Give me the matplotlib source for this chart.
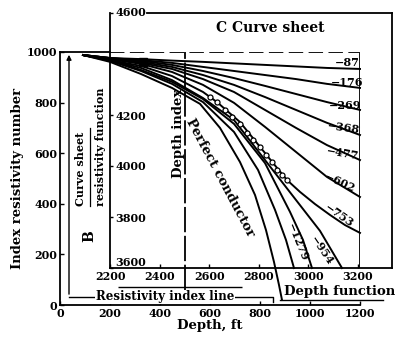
import numpy as np
import matplotlib.pyplot as plt

plt.rcParams['font.family'] = ['DejaVu Serif']
plt.rcParams['font.weight'] = 'bold'
plt.rcParams['axes.labelweight'] = 'bold'

# index resistivity curves (depth ft, index number)
curve_names = ['-87', '-176', '-269', '-368', '-477', '-602', '-753',
               '-954', '-1279', '', 'Perfect conductor']
x9 = [92, 200, 324, 448, 572, 696, 820, 944, 1068, 1200]
curve_depth = [
    x9, x9, x9, x9, x9, x9,
    [92, 200, 324, 448, 572, 628, 720, 800, 868, 908, 960, 1020, 1080,
     1140, 1200],
    [92, 200, 324, 448, 572, 696, 820, 944, 1040, 1128],
    [92, 200, 324, 448, 572, 696, 820, 920, 972, 1008],
    [92, 200, 324, 448, 572, 696, 792, 860, 904, 936],
    [92, 200, 324, 448, 560, 640, 720, 780, 824, 856, 876, 888],
]
curve_index = [
    [988, 976, 972, 966, 961, 955, 949, 943, 937, 933],
    [988, 976, 968, 957, 941, 925, 909, 893, 874, 858],
    [988, 976, 965, 949, 925, 897, 866, 834, 802, 771],
    [988, 976, 961, 941, 909, 870, 822, 771, 720, 672],
    [988, 972, 957, 933, 893, 842, 771, 700, 632, 573],
    [988, 972, 953, 921, 870, 799, 704, 605, 506, 427],
    [988, 968, 945, 905, 842, 802, 723, 625, 542, 494, 447, 399, 356,
     316, 285],
    [988, 968, 937, 889, 818, 731, 573, 415, 293, 146],
    [988, 968, 929, 882, 814, 716, 561, 368, 257, 146],
    [988, 965, 925, 874, 802, 684, 534, 376, 257, 146],
    [988, 961, 913, 858, 795, 700, 565, 435, 296, 170, 79, 20],
]

# field points (circles)
pts_depth = [600, 628, 660, 688, 720, 748, 772, 800, 824, 848, 868, 888, 908]
pts_index = [822, 802, 771, 743, 715, 680, 652, 625, 593, 565, 534, 514, 494]

blob_depth = [332]
blob_index = [960]

a_xticks = [0, 200, 400, 600, 800, 1000, 1200]
a_yticks = [0, 200, 400, 600, 800, 1000]
c_xticks = [2200, 2400, 2600, 2800, 3000, 3200]
c_yticks = [3600, 3800, 4000, 4200, 4600]

# label placement (depth, index, rotation)
lab_pos = [(1150, 958, 0), (1150, 880, 0), (1142, 790, 0), (1132, 700, -8),
           (1132, 601, -10), (1118, 484, -25), (1118, 352, -35),
           (1048, 217, -56), (950, 248, -68), None, (640, 502, -62)]

W, H = 405, 340


def box(l, t, r, b):
    return [l / W, 1 - b / H, (r - l) / W, (b - t) / H]


fig = plt.figure(figsize=(W / 100, H / 100), dpi=100)
ax = fig.add_axes(box(60, 52, 360, 305))
axc = fig.add_axes(box(110, 13, 392, 268))
axc.set_facecolor('none')

# ---- outer chart
ax.set_xlim(0, 1200)
ax.set_ylim(0, 1000)
ax.spines['right'].set_visible(False)
ax.spines['top'].set_bounds(0, 200)
for s in ax.spines.values():
    s.set_linewidth(1.3)
ax.set_xticks(a_xticks)
ax.set_yticks(a_yticks)
ax.tick_params(direction='in', length=3, width=1, labelsize=8, pad=2)
ax.set_xlabel('Depth, ft', fontsize=9.5, labelpad=0)
ax.set_ylabel('Index resistivity number', fontsize=9.5, labelpad=2)

ax.hlines(1000, 200, 1195, colors='k', lw=1.3, linestyles=(0, (8, 3)))
ax.vlines(1200, 146, 1000, colors='k', lw=1.3)
ax.vlines(500, 59, 1000, colors='k', lw=1.3, linestyles=(0, (14, 2)))
ax.hlines(71, 232, 728, colors='k', lw=1)

for xs, ys in zip(curve_depth, curve_index):
    ax.plot(xs, ys, color='k', lw=1.4, clip_on=False)
ax.plot(pts_depth, pts_index, 'o', ms=3.6, mfc='white', mec='k', mew=0.9)
ax.plot(blob_depth, blob_index, 's', ms=6, color='k')

for name, pos in zip(curve_names, lab_pos):
    if pos is None:
        continue
    fs = 9.5 if len(name) > 6 else 8
    ax.text(pos[0], pos[1], name.replace('-', '\u2212'), fontsize=fs,
            rotation=pos[2], ha='center', va='center',
            rotation_mode='anchor')

ax.text(475, 680, 'Depth index', rotation=90, fontsize=9.5,
        ha='center', va='center')

# resistivity index line arrow
ax.annotate('', xy=(36, 1000), xytext=(36, 32),
            arrowprops=dict(arrowstyle='-|>', color='k', lw=1,
                            mutation_scale=7))
ax.plot([36, 852, 852], [32, 32, 10], color='k', lw=1, clip_on=False)
ax.text(420, 32, 'Resistivity index line', fontsize=8.5, ha='center',
        va='center', bbox=dict(fc='white', ec='none', pad=0.5))

ax.text(1120, 55, 'Depth function', fontsize=9.5, ha='center',
        va='center', clip_on=False)
ax.plot([880, 1292], [20, 20], color='k', lw=1, clip_on=False)

# sheet B
ax.text(84, 540, 'Curve sheet', rotation=90, fontsize=8, ha='center',
        va='center')
ax.plot([120, 120], [390, 700], color='k', lw=0.9)
ax.text(164, 625, 'resistivity function', rotation=90, fontsize=8,
        ha='center', va='center')
ax.text(116, 272, 'B', rotation=90, fontsize=10, ha='center', va='center')

# ---- curve sheet C
axc.set_xlim(2200, 3337)
axc.set_ylim(3600, 4600)
axc.spines['top'].set_bounds(2350, 3337)
for s in axc.spines.values():
    s.set_linewidth(1.3)
axc.set_xticks(c_xticks)
axc.set_yticks(c_yticks)
axc.tick_params(axis='x', direction='in', length=3, width=1, labelsize=8,
                pad=2)
axc.tick_params(axis='y', direction='in', length=2, width=1, labelsize=8,
                pad=-4)
for lbl in axc.get_yticklabels():
    lbl.set_horizontalalignment('left')
axc.get_yticklabels()[-1].set_verticalalignment('center')
axc.get_yticklabels()[0].set_verticalalignment('bottom')
axc.text(0.567, 0.941, 'C Curve sheet', transform=axc.transAxes,
         fontsize=10, ha='center', va='center')

fig.savefig('out.png', dpi=100)
